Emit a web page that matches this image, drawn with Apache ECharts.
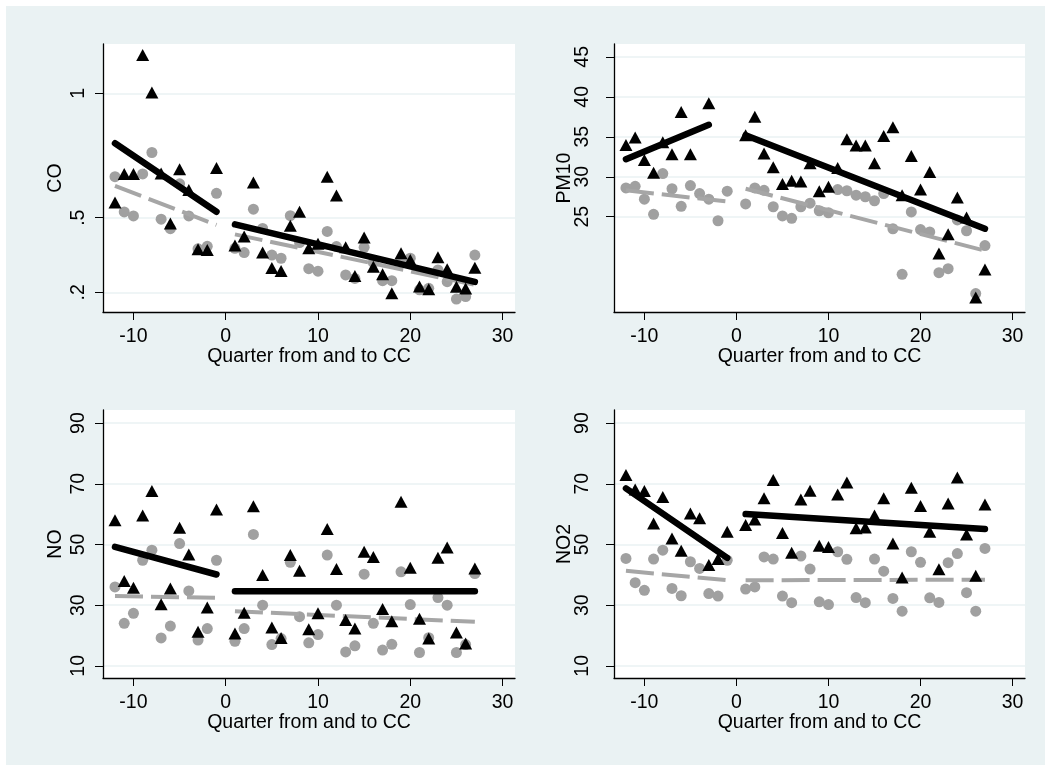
<!DOCTYPE html>
<html>
<head>
<meta charset="utf-8">
<script src="https://cdn.jsdelivr.net/npm/echarts@6/dist/echarts.min.js"></script>
<style>
  html, body { margin: 0; padding: 0; background: #fff; }
  #chart { width: 1051px; height: 771px; }
</style>
</head>
<body>
<div id="chart"></div>
<script>
// quarters from and to the congestion charge (no quarter 0)
const quarters = [-12, -11, -10, -9, -8, -7, -6, -5, -4, -3, -2, -1,
  1, 2, 3, 4, 5, 6, 7, 8, 9, 10, 11, 12, 13, 14, 15, 16, 17, 18, 19, 20,
  21, 22, 23, 24, 25, 26, 27];
const xTicks = [-10, 0, 10, 20, 30];

// CO
const coTri = [0.561, 0.676, 0.676, 1.154, 1.003, 0.678, 0.477, 0.695, 0.611, 0.373, 0.370, 0.700,
  0.388, 0.424, 0.641, 0.360, 0.298, 0.286, 0.468, 0.524, 0.377, 0.395, 0.665, 0.589, 0.381, 0.266,
  0.420, 0.303, 0.273, 0.196, 0.357, 0.330, 0.223, 0.212, 0.341, 0.293, 0.222, 0.215, 0.299];
const coCirc = [0.665, 0.523, 0.507, 0.676, 0.762, 0.494, 0.456, 0.636, 0.507, 0.375, 0.385, 0.598,
  0.377, 0.360, 0.534, 0.457, 0.350, 0.337, 0.508, 0.400, 0.295, 0.285, 0.445, 0.384, 0.270, 0.256,
  0.381, 0.320, 0.247, 0.247, 0.330, 0.337, 0.210, 0.216, 0.290, 0.243, 0.173, 0.183, 0.350];
const coFitTri = [[[-12, 0.799], [-1, 0.524]], [[1, 0.473], [27, 0.242]]];
const coFitCirc = [[[-12, 0.628], [-1, 0.471]], [[1, 0.433], [27, 0.230]]];
const coTicks = [0.2, 0.5, 1];

// PM10
const pmTri = [33.96, 34.9, 32.1, 30.5, 34.3, 32.8, 38.1, 32.8, null, 39.2, null, null,
  35.2, 37.5, 32.9, 31.2, 29.1, 29.5, 29.4, 31.7, 28.2, 28.75, 31.1, 34.7, 33.9, 33.9,
  31.7, 35.1, 36.2, 27.7, 32.6, 28.4, 30.6, 20.4, 22.8, 27.4, 24.9, 14.9, 18.4];
const pmCirc = [28.6, 28.8, 27.2, 25.3, 30.4, 28.5, 26.3, 28.9, 27.9, 27.2, 24.5, 28.2,
  26.6, 28.6, 28.3, 26.25, 25.1, 24.8, 26.25, 26.7, 25.75, 25.5, 28.4, 28.25, 27.7, 27.5,
  27.0, 27.9, 23.5, 17.8, 25.6, 23.4, 23.1, 18.0, 18.5, 24.6, 23.25, 15.4, 21.4];
const pmFitTri = [[[-12, 32.2], [-3, 36.5]], [[1, 35.2], [27, 23.5]]];
const pmFitCirc = [[[-12, 28.3], [-1, 26.9]], [[1, 28.5], [27, 20.75]]];
const pmTicks = [25, 30, 35, 40, 45];

// NO
const noTri = [58.0, 38.0, 35.7, 59.5, 67.6, 30.3, 35.5, 55.5, 46.7, 21.2, 29.2, 61.5,
  20.7, 27.5, 62.6, 39.9, 22.6, 19.2, 46.5, 41.3, 22.1, 27.3, 55.1, 41.9, 25.1, 22.3,
  47.6, 45.9, 28.7, 24.7, 64.1, 42.3, 25.5, 19.0, 45.6, 49.0, 21.0, 17.4, 42.1];
const noCirc = [36.0, 24.0, 27.3, 44.8, 48.1, 19.2, 23.1, 50.3, 34.7, 18.5, 22.3, 44.8,
  18.1, 22.3, 53.3, 30.0, 17.0, 19.0, 44.1, 26.2, 17.6, 20.3, 46.5, 30.0, 14.6, 16.6,
  40.2, 24.0, 15.2, 17.1, 41.0, 30.2, 14.4, 19.3, 32.5, 30.0, 14.4, 17.0, 40.4];
const noFitTri = [[[-12, 49.2], [-1, 40.1]], [[1, 34.6], [27, 34.6]]];
const noFitCirc = [[[-12, 33.0], [-1, 32.4]], [[1, 28.0], [27, 24.5]]];

// NO2
const no2Tri = [72.9, 68.1, 67.6, 56.9, 65.6, 52.0, 47.9, 60.2, 58.6, 43.2, 45.2, 54.2,
  56.4, 58.2, 65.2, 71.2, 53.8, 47.3, 64.8, 67.7, 49.6, 49.2, 66.5, 70.4, 55.3, 55.6,
  59.5, 65.2, 50.3, 39.1, 68.7, 62.7, 54.2, 41.8, 63.5, 72.1, 53.3, 39.7, 63.2];
const no2Circ = [45.4, 37.4, 34.9, 45.2, 48.1, 35.5, 33.1, 44.3, 42.1, 33.8, 33.0, 44.8,
  35.3, 36.0, 45.9, 45.2, 33.0, 30.8, 46.2, 41.9, 31.1, 30.2, 47.6, 45.1, 32.5, 30.8,
  45.2, 41.2, 32.2, 28.0, 47.6, 44.1, 32.4, 30.9, 44.0, 47.0, 34.1, 28.0, 48.7];
const no2FitTri = [[[-12, 68.5], [-1, 45.6]], [[1, 60.0], [27, 55.1]]];
const no2FitCirc = [[[-12, 41.3], [-1, 38.2]], [[1, 38.2], [27, 38.4]]];
const nTicks = [10, 30, 50, 70, 90];

const FONT = '"Liberation Sans", Arial, sans-serif';
const FS = 19.5;
const BG = '#eaf2f3';

const panels = [
  { title: 'CO', tri: coTri, circ: coCirc, fitTri: coFitTri, fitCirc: coFitCirc, ticks: coTicks,
    range: [0.121, 1.198], box: [103, 44, 412, 268], labelMargin: 14, nameGap: 37 },
  { title: 'PM10', tri: pmTri, circ: pmCirc, fitTri: pmFitTri, fitCirc: pmFitCirc, ticks: pmTicks,
    range: [13.09, 46.6], box: [614, 44, 411, 268], labelMargin: 21, nameGap: 39 },
  { title: 'NO', tri: noTri, circ: noCirc, fitTri: noFitTri, fitCirc: noFitCirc, ticks: nTicks,
    range: [6.0, 94.3], box: [103, 410, 412, 268], labelMargin: 14, nameGap: 37 },
  { title: 'NO2', tri: no2Tri, circ: no2Circ, fitTri: no2FitTri, fitCirc: no2FitCirc, ticks: nTicks,
    range: [6.0, 94.3], box: [614, 410, 411, 268], labelMargin: 21, nameGap: 39 }
];

const pair = (ys) => quarters.map((q, i) => [q, ys[i]]).filter((p) => p[1] != null);
const fmt = (v) => String(v).replace(/^0\./, '.');

const grid = [], xAxis = [], yAxis = [], series = [];

panels.forEach((p, i) => {
  grid.push({
    left: p.box[0], top: p.box[1], width: p.box[2], height: p.box[3],
    show: true, backgroundColor: '#fff', borderWidth: 0
  });
  xAxis.push({
    gridIndex: i, type: 'value', min: -13.3, max: 31.35,
    name: 'Quarter from and to CC', nameLocation: 'middle', nameGap: 35, nameMoveOverlap: false,
    nameTextStyle: { fontFamily: FONT, fontSize: FS, color: '#000' },
    axisLine: { onZero: false, lineStyle: { color: '#000', width: 1.3 } },
    axisTick: { show: true, length: 8, customValues: xTicks, lineStyle: { color: '#000', width: 1 } },
    axisLabel: { customValues: xTicks, margin: 15, fontFamily: FONT, fontSize: FS, color: '#000' },
    splitLine: { show: false }
  });
  yAxis.push({
    gridIndex: i, type: 'value', min: p.range[0], max: p.range[1],
    name: p.title, nameLocation: 'middle', nameGap: p.nameGap, nameMoveOverlap: false,
    nameTextStyle: { fontFamily: FONT, fontSize: FS, color: '#000' },
    axisLine: { show: true, onZero: false, lineStyle: { color: '#000', width: 1.3 } },
    axisTick: { show: true, length: 8, customValues: p.ticks, lineStyle: { color: '#000', width: 1 } },
    axisLabel: { customValues: p.ticks, rotate: 90, margin: p.labelMargin, formatter: fmt,
      fontFamily: FONT, fontSize: FS, color: '#000' },
    splitLine: { show: true, lineStyle: { color: BG, width: 1.5 } }
  });

  series.push({
    type: 'scatter', xAxisIndex: i, yAxisIndex: i, z: 2,
    symbol: 'circle', symbolSize: 11, data: pair(p.circ),
    itemStyle: { color: '#a0a0a0', opacity: 1 }, silent: true
  });
  p.fitCirc.forEach((seg) => series.push({
    type: 'line', xAxisIndex: i, yAxisIndex: i, z: 3, data: seg,
    showSymbol: false, silent: true,
    lineStyle: { color: '#a6a6a6', width: 4, type: [28, 8], cap: 'butt' }
  }));
  series.push({
    type: 'scatter', xAxisIndex: i, yAxisIndex: i, z: 4,
    symbol: 'triangle', symbolSize: [13, 12], data: pair(p.tri),
    itemStyle: { color: '#000', opacity: 1 }, silent: true
  });
  p.fitTri.forEach((seg) => series.push({
    type: 'line', xAxisIndex: i, yAxisIndex: i, z: 5, data: seg,
    showSymbol: false, silent: true,
    lineStyle: { color: '#000', width: 6.5, cap: 'round' }
  }));
});

const chart = echarts.init(document.getElementById('chart'), null, { renderer: 'canvas' });
chart.setOption({
  animation: false,
  backgroundColor: '#fff',
  graphic: [{
    type: 'rect', z: -10, silent: true,
    shape: { x: 6, y: 6, width: 1039, height: 759 },
    style: { fill: BG }
  }],
  grid, xAxis, yAxis, series
});
</script>
</body>
</html>
